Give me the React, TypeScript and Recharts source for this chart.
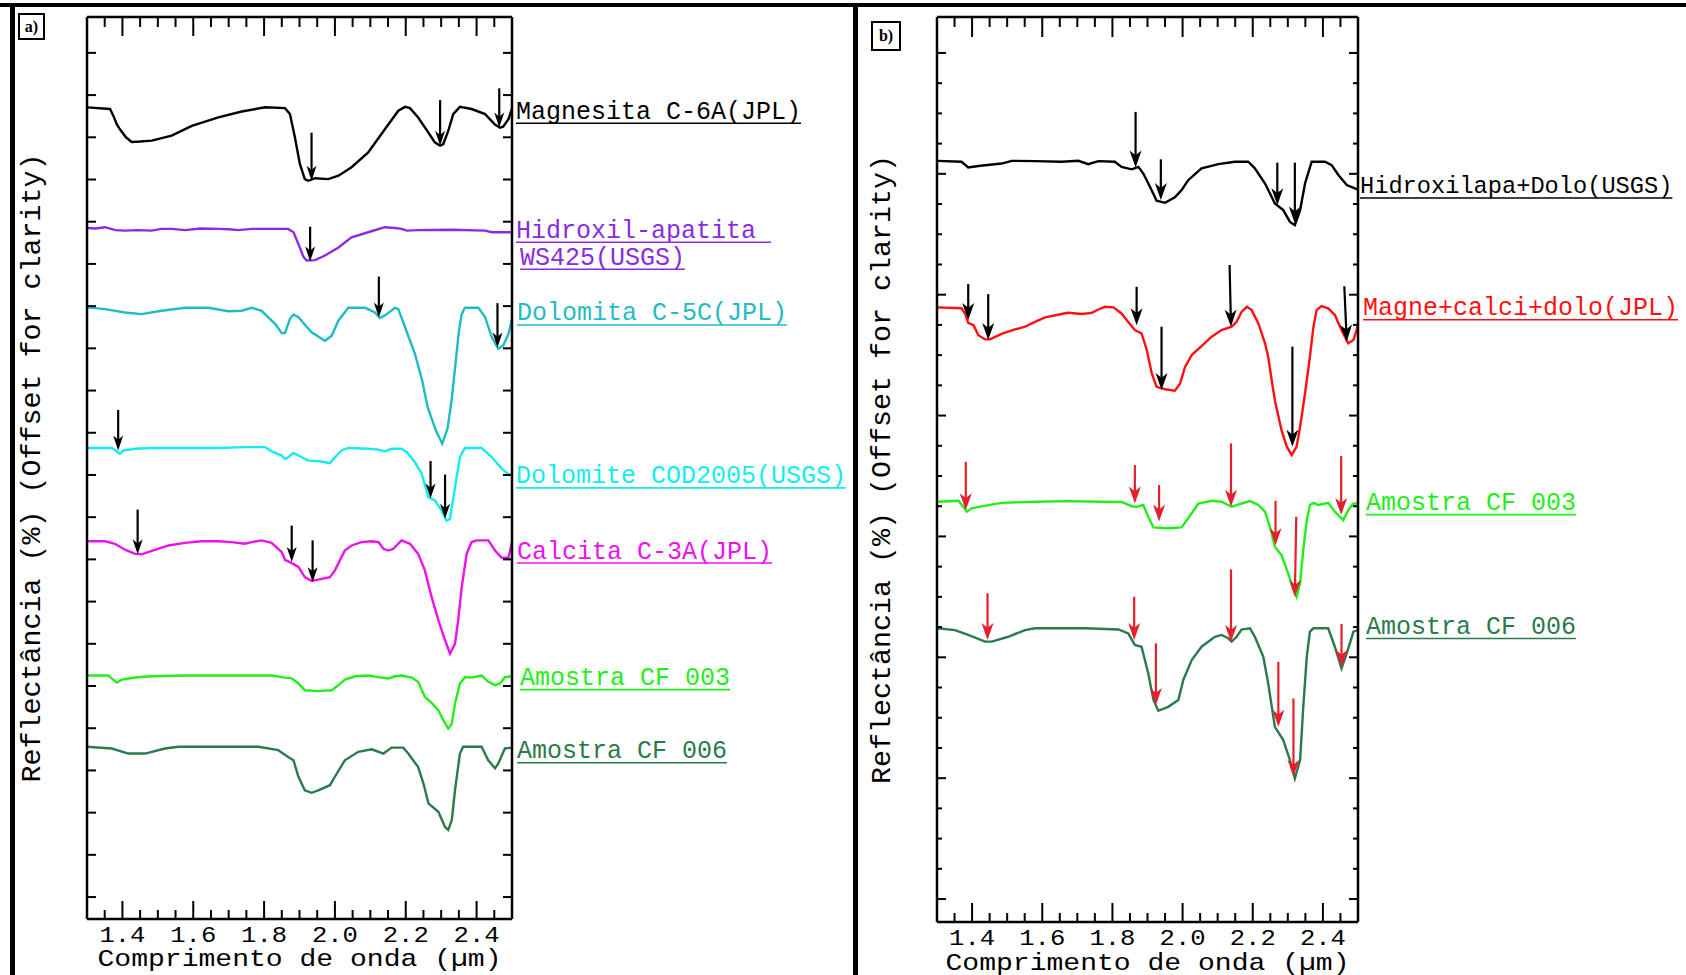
import React from "react";
import { LineChart, Line, XAxis, YAxis, ReferenceLine, ReferenceDot, Label } from "recharts";

type Pt = [number, number];
// arrow = [wl top, value top, wl tip, value tip]
type Arrow = [number, number, number, number];

// ---- panel a) spectra (offset reflectance, one unit = one y tick) ----
const magnesita: Pt[] = [
  [1.300, 18.71], [1.365, 18.67], [1.375, 18.50], [1.384, 18.31], [1.393, 18.19], [1.410, 18.00], [1.426, 17.89],
  [1.450, 17.90], [1.483, 17.92], [1.539, 18.04], [1.596, 18.27], [1.671, 18.47], [1.737, 18.61], [1.803, 18.71],
  [1.859, 18.69], [1.873, 18.55], [1.887, 18.00], [1.901, 17.37], [1.915, 17.01], [1.925, 16.97], [1.944, 17.03],
  [1.981, 17.01], [2.010, 17.09], [2.047, 17.29], [2.094, 17.64], [2.141, 18.19], [2.179, 18.63], [2.198, 18.72],
  [2.212, 18.69], [2.235, 18.47], [2.264, 18.11], [2.282, 17.88], [2.297, 17.80], [2.306, 17.84], [2.320, 18.15],
  [2.334, 18.55], [2.353, 18.72], [2.386, 18.67], [2.424, 18.55], [2.452, 18.30], [2.466, 18.23], [2.475, 18.25],
  [2.490, 18.43], [2.500, 18.68],
];
const hidroxilApatita: Pt[] = [
  [1.300, 15.85], [1.323, 15.84], [1.351, 15.87], [1.380, 15.80], [1.407, 15.79], [1.440, 15.80], [1.483, 15.79],
  [1.510, 15.83], [1.539, 15.83], [1.577, 15.80], [1.620, 15.84], [1.671, 15.83], [1.700, 15.82], [1.727, 15.80],
  [1.765, 15.83], [1.820, 15.83], [1.868, 15.83], [1.883, 15.75], [1.897, 15.47], [1.911, 15.17], [1.920, 15.08],
  [1.944, 15.09], [1.972, 15.20], [2.010, 15.39], [2.047, 15.63], [2.094, 15.75], [2.141, 15.87], [2.170, 15.85],
  [2.188, 15.83], [2.203, 15.79], [2.235, 15.80], [2.330, 15.81], [2.424, 15.79], [2.443, 15.75], [2.500, 15.75],
];
const dolomitaC5C: Pt[] = [
  [1.300, 13.97], [1.351, 13.93], [1.407, 13.85], [1.454, 13.81], [1.511, 13.89], [1.577, 13.96], [1.643, 13.96],
  [1.699, 13.88], [1.737, 13.89], [1.765, 13.96], [1.793, 13.89], [1.831, 13.58], [1.850, 13.36], [1.859, 13.36],
  [1.873, 13.70], [1.883, 13.80], [1.897, 13.74], [1.934, 13.38], [1.972, 13.18], [1.991, 13.30], [2.010, 13.66],
  [2.038, 13.96], [2.085, 13.96], [2.113, 13.85], [2.127, 13.72], [2.141, 13.78], [2.170, 13.96], [2.179, 13.93],
  [2.198, 13.50], [2.226, 12.87], [2.246, 12.25], [2.262, 11.60], [2.285, 11.05], [2.303, 10.74], [2.318, 11.10],
  [2.330, 11.80], [2.340, 12.60], [2.350, 13.40], [2.358, 13.81], [2.367, 13.96], [2.405, 13.96], [2.424, 13.74],
  [2.443, 13.26], [2.461, 12.99], [2.475, 13.07], [2.490, 13.34], [2.500, 13.70],
];
const dolomiteCOD: Pt[] = [
  [1.300, 10.64], [1.370, 10.64], [1.384, 10.56], [1.393, 10.50], [1.403, 10.58], [1.436, 10.62], [1.483, 10.64],
  [1.577, 10.64], [1.671, 10.64], [1.746, 10.66], [1.803, 10.66], [1.821, 10.56], [1.850, 10.46], [1.859, 10.38],
  [1.868, 10.42], [1.883, 10.52], [1.897, 10.46], [1.925, 10.34], [1.953, 10.33], [1.986, 10.28], [2.000, 10.42],
  [2.019, 10.58], [2.038, 10.64], [2.094, 10.62], [2.123, 10.60], [2.141, 10.56], [2.160, 10.62], [2.188, 10.62],
  [2.203, 10.54], [2.226, 10.30], [2.245, 10.03], [2.264, 9.47], [2.282, 9.40], [2.301, 9.16], [2.315, 8.92],
  [2.325, 8.96], [2.339, 9.71], [2.353, 10.42], [2.367, 10.64], [2.414, 10.64], [2.443, 10.42], [2.471, 10.15],
  [2.494, 9.99], [2.500, 10.02],
];
const calcita: Pt[] = [
  [1.300, 8.43], [1.351, 8.43], [1.379, 8.37], [1.407, 8.23], [1.436, 8.13], [1.454, 8.12], [1.483, 8.20],
  [1.530, 8.33], [1.577, 8.39], [1.624, 8.43], [1.671, 8.43], [1.708, 8.41], [1.746, 8.37], [1.765, 8.41],
  [1.793, 8.45], [1.821, 8.39], [1.850, 8.17], [1.859, 7.99], [1.878, 7.91], [1.897, 7.82], [1.915, 7.58],
  [1.934, 7.49], [1.953, 7.52], [1.986, 7.58], [2.000, 7.74], [2.028, 8.21], [2.047, 8.33], [2.075, 8.41],
  [2.104, 8.43], [2.123, 8.41], [2.137, 8.25], [2.151, 8.21], [2.165, 8.25], [2.188, 8.45], [2.212, 8.37],
  [2.235, 8.13], [2.254, 7.74], [2.273, 7.11], [2.292, 6.56], [2.311, 6.08], [2.325, 5.77], [2.339, 6.00],
  [2.348, 6.56], [2.358, 7.34], [2.372, 8.13], [2.386, 8.41], [2.400, 8.45], [2.433, 8.45], [2.452, 8.21],
  [2.471, 8.04], [2.490, 8.04], [2.500, 8.41],
];
const cf003a: Pt[] = [
  [1.300, 5.25], [1.360, 5.25], [1.374, 5.15], [1.384, 5.08], [1.398, 5.15], [1.436, 5.20], [1.483, 5.23],
  [1.577, 5.25], [1.671, 5.25], [1.765, 5.25], [1.821, 5.25], [1.859, 5.20], [1.878, 5.18], [1.897, 5.06],
  [1.915, 4.90], [1.953, 4.88], [1.991, 4.90], [2.010, 5.02], [2.028, 5.15], [2.057, 5.23], [2.094, 5.25],
  [2.123, 5.21], [2.151, 5.18], [2.170, 5.23], [2.188, 5.25], [2.217, 5.20], [2.235, 5.10], [2.254, 4.74],
  [2.273, 4.60], [2.292, 4.43], [2.306, 4.19], [2.320, 3.99], [2.330, 4.11], [2.339, 4.58], [2.353, 5.06],
  [2.367, 5.21], [2.386, 5.20], [2.414, 5.25], [2.433, 5.10], [2.452, 5.02], [2.466, 5.06], [2.480, 5.21],
  [2.500, 5.23],
];
const cf006a: Pt[] = [
  [1.300, 3.56], [1.370, 3.52], [1.417, 3.40], [1.464, 3.40], [1.520, 3.52], [1.558, 3.56], [1.671, 3.56],
  [1.784, 3.56], [1.840, 3.48], [1.868, 3.32], [1.883, 3.24], [1.897, 2.85], [1.915, 2.53], [1.934, 2.47],
  [1.953, 2.53], [1.986, 2.65], [2.000, 2.85], [2.028, 3.24], [2.066, 3.44], [2.104, 3.50], [2.137, 3.40],
  [2.160, 3.54], [2.193, 3.54], [2.207, 3.40], [2.235, 3.08], [2.250, 2.69], [2.264, 2.22], [2.292, 2.02],
  [2.311, 1.66], [2.320, 1.59], [2.330, 1.82], [2.339, 2.53], [2.353, 3.40], [2.362, 3.56], [2.414, 3.56],
  [2.433, 3.24], [2.452, 3.05], [2.461, 3.16], [2.480, 3.52], [2.500, 3.54],
];

// ---- panel b) spectra ----
const hidroxilapaDolo: Pt[] = [
  [1.300, 24.43], [1.370, 24.40], [1.389, 24.21], [1.418, 24.26], [1.484, 24.34], [1.513, 24.43], [1.579, 24.42],
  [1.655, 24.40], [1.703, 24.43], [1.731, 24.32], [1.760, 24.42], [1.807, 24.40], [1.826, 24.23], [1.855, 24.15],
  [1.874, 24.23], [1.888, 24.01], [1.907, 23.57], [1.926, 23.11], [1.950, 23.04], [1.978, 23.22], [1.997, 23.46],
  [2.016, 23.79], [2.054, 24.18], [2.102, 24.32], [2.149, 24.40], [2.187, 24.40], [2.206, 24.18], [2.235, 23.68],
  [2.263, 23.02], [2.287, 22.80], [2.306, 22.41], [2.320, 22.30], [2.335, 22.80], [2.349, 23.68], [2.368, 24.40],
  [2.406, 24.40], [2.425, 24.29], [2.444, 23.96], [2.468, 23.63], [2.491, 23.52], [2.500, 23.48],
];
const magneCalciDolo: Pt[] = [
  [1.300, 19.58], [1.370, 19.55], [1.380, 19.38], [1.389, 19.07], [1.404, 18.99], [1.418, 18.66], [1.437, 18.52],
  [1.451, 18.52], [1.484, 18.70], [1.522, 18.85], [1.551, 18.94], [1.579, 19.10], [1.608, 19.25], [1.655, 19.36],
  [1.674, 19.40], [1.712, 19.36], [1.741, 19.40], [1.760, 19.51], [1.779, 19.60], [1.803, 19.58], [1.826, 19.38],
  [1.845, 19.10], [1.864, 18.83], [1.883, 18.72], [1.898, 18.17], [1.912, 17.40], [1.926, 16.95], [1.950, 16.87],
  [1.978, 16.82], [1.993, 17.06], [2.007, 17.61], [2.026, 18.00], [2.054, 18.30], [2.083, 18.61], [2.111, 18.83],
  [2.140, 18.94], [2.154, 19.10], [2.168, 19.43], [2.183, 19.60], [2.197, 19.49], [2.216, 19.05], [2.235, 18.39],
  [2.244, 17.95], [2.254, 17.17], [2.263, 16.51], [2.282, 15.52], [2.297, 14.97], [2.311, 14.69], [2.325, 14.97],
  [2.335, 15.63], [2.349, 16.73], [2.363, 17.95], [2.373, 18.94], [2.382, 19.49], [2.396, 19.62], [2.415, 19.55],
  [2.434, 19.33], [2.453, 18.83], [2.472, 18.39], [2.487, 18.50], [2.496, 18.83], [2.500, 19.05],
];
const cf003b: Pt[] = [
  [1.300, 13.15], [1.361, 13.18], [1.375, 12.98], [1.385, 12.82], [1.399, 12.93], [1.418, 12.98], [1.484, 13.11],
  [1.579, 13.15], [1.674, 13.17], [1.769, 13.15], [1.826, 13.14], [1.855, 13.00], [1.869, 12.98], [1.888, 13.04],
  [1.902, 12.65], [1.917, 12.30], [1.959, 12.27], [1.997, 12.30], [2.016, 12.60], [2.045, 13.09], [2.083, 13.18],
  [2.111, 13.15], [2.140, 12.98], [2.168, 13.09], [2.192, 13.17], [2.216, 13.04], [2.235, 12.82], [2.249, 12.32],
  [2.263, 11.66], [2.282, 11.38], [2.301, 10.78], [2.316, 10.23], [2.325, 10.00], [2.335, 10.45], [2.344, 11.55],
  [2.354, 12.54], [2.363, 13.04], [2.373, 13.11], [2.387, 13.04], [2.415, 13.11], [2.434, 12.82], [2.458, 12.54],
  [2.472, 12.87], [2.487, 13.09], [2.500, 13.09],
];
const cf006b: Pt[] = [
  [1.300, 8.96], [1.351, 8.90], [1.389, 8.74], [1.437, 8.52], [1.456, 8.52], [1.503, 8.68], [1.551, 8.90],
  [1.579, 8.96], [1.722, 8.96], [1.817, 8.92], [1.845, 8.79], [1.864, 8.41], [1.883, 8.35], [1.902, 7.47],
  [1.917, 6.59], [1.931, 6.23], [1.959, 6.36], [1.988, 6.59], [2.002, 7.25], [2.026, 7.91], [2.054, 8.35],
  [2.092, 8.68], [2.111, 8.74], [2.130, 8.63], [2.140, 8.52], [2.154, 8.68], [2.168, 8.92], [2.192, 8.96],
  [2.206, 8.68], [2.230, 8.02], [2.244, 7.14], [2.263, 5.70], [2.287, 5.26], [2.306, 4.60], [2.320, 3.99],
  [2.335, 4.60], [2.344, 6.36], [2.354, 8.02], [2.363, 8.85], [2.373, 8.96], [2.415, 8.96], [2.434, 8.35],
  [2.453, 7.63], [2.468, 8.13], [2.487, 8.85], [2.500, 8.90],
];

// absorption feature arrows
const arrowsA: Arrow[] = [
  [1.934, 18.11, 1.934, 16.97], [2.297, 18.88, 2.297, 17.80], [2.464, 19.16, 2.464, 18.23],
  [1.930, 15.88, 1.930, 15.06],
  [2.124, 14.70, 2.124, 13.73], [2.459, 14.07, 2.459, 13.02],
  [1.388, 11.54, 1.388, 10.58], [2.270, 10.33, 2.270, 9.44], [2.311, 10.01, 2.311, 8.96],
  [1.443, 9.18, 1.443, 8.12], [1.878, 8.80, 1.878, 7.94], [1.937, 8.45, 1.937, 7.46],
];
const arrowsBBlack: Arrow[] = [
  [1.866, 26.05, 1.866, 24.21], [1.938, 24.48, 1.938, 23.13], [2.270, 24.37, 2.270, 22.96], [2.320, 24.37, 2.320, 22.36],
  [1.389, 20.35, 1.389, 19.16], [1.446, 20.02, 1.446, 18.50], [1.869, 20.26, 1.869, 18.99], [1.940, 18.94, 1.940, 16.85],
  [2.134, 20.98, 2.138, 18.94], [2.313, 18.28, 2.313, 14.97], [2.461, 20.28, 2.468, 18.44],
];
const arrowsBRed: Arrow[] = [
  [1.382, 14.47, 1.382, 12.87], [1.864, 14.36, 1.864, 13.09], [1.933, 13.70, 1.933, 12.49], [2.138, 15.08, 2.138, 12.98],
  [2.265, 13.18, 2.265, 11.71], [2.324, 12.65, 2.320, 10.00], [2.452, 14.66, 2.452, 12.71],
  [1.444, 10.12, 1.444, 8.57], [1.862, 10.00, 1.862, 8.57], [1.924, 8.46, 1.924, 6.42], [2.138, 10.91, 2.138, 8.51],
  [2.273, 7.85, 2.273, 5.70], [2.316, 6.64, 2.316, 4.05], [2.453, 9.10, 2.453, 7.69],
];

const seriesA = [magnesita, hidroxilApatita, dolomitaC5C, dolomiteCOD, calcita, cf003a, cf006a];
const namesA = ["Magnesita C-6A(JPL)", "Hidroxil-apatita \nWS425(USGS)", "Dolomita C-5C(JPL)", "Dolomite COD2005(USGS)",
  "Calcita C-3A(JPL)", "Amostra CF 003", "Amostra CF 006"];
const colorsA = ["#000000", "#8a2be2", "#1fbcc4", "#14ecf0", "#ee10ee", "#22ee18", "#2b7a4b"];
const labelYA = [18.44, 15.62, 13.66, 9.80, 8.02, 5.02, 3.29];
const labelDxA = [4, 4, 5, 4, 5, 8, 5];
const charWA = [15, 15, 15, 15, 15, 15, 15];

const seriesB = [hidroxilapaDolo, magneCalciDolo, cf003b, cf006b];
const namesB = ["Hidroxilapa+Dolo(USGS)", "Magne+calci+dolo(JPL)", "Amostra CF 003", "Amostra CF 006"];
const colorsB = ["#000000", "#ff1010", "#22ee18", "#2b7a4b"];
const labelYB = [23.35, 19.32, 12.87, 8.77];
const labelDxB = [2, 5, 8, 8];
const charWB = [14.2, 15, 15, 15];

const xTicks = [1.35, 1.4, 1.45, 1.5, 1.55, 1.6, 1.65, 1.7, 1.75, 1.8, 1.85, 1.9, 1.95, 2.0, 2.05, 2.1, 2.15, 2.2,
  2.25, 2.3, 2.35, 2.4, 2.45];
const yTicksA = [0, 1, 2, 3, 4, 5, 6, 7, 8, 9, 10, 11, 12, 13, 14, 15, 16, 17, 18, 19, 20];
const yTicksB = [0, 1, 2, 3, 4, 5, 6, 7, 8, 9, 10, 11, 12, 13, 14, 15, 16, 17, 18, 19, 20, 21, 22, 23, 24, 25, 26, 27, 28];

const MONO = "'Liberation Mono', 'DejaVu Sans Mono', monospace";
const toRows = (pts: Pt[]) => pts.map(([wl, r]) => ({ wl, r }));
const isMajorX = (v: number) => Math.round(v * 100) % 20 === 0;

// x ticks point inwards, labels only on the 0.2 µm ticks
const bottomTick = (major: number, minor: number) => (p: any) => {
  const { x, y, payload } = p;
  const big = isMajorX(payload.value);
  return (
    <g>
      <line x1={x} x2={x} y1={y} y2={y - (big ? major : minor)} stroke="#000" strokeWidth={2} />
      {big && (
        <text x={x} y={y + 23} textAnchor="middle" fontFamily={MONO} fontSize={22} textLength={46}
          lengthAdjust="spacingAndGlyphs" fill="#000">
          {payload.value.toFixed(1)}
        </text>
      )}
    </g>
  );
};
const topTick = (major: number, minor: number) => (p: any) => {
  const { x, y, payload } = p;
  const big = isMajorX(payload.value);
  return <line x1={x} x2={x} y1={y} y2={y + (big ? major : minor)} stroke="#000" strokeWidth={2} />;
};
const sideTick = (dir: number, every: number, major: number, minor: number) => (p: any) => {
  const { x, y, payload } = p;
  const len = payload.value % every === 0 ? major : minor;
  return <line x1={x} x2={x + dir * len} y1={y} y2={y} stroke="#000" strokeWidth={2} />;
};

const arrowShape = (color: string, head: number, half: number) => (p: any) => {
  const { x1, y1, x2, y2 } = p;
  const dx = x2 - x1;
  const dy = y2 - y1;
  const len = Math.hypot(dx, dy) || 1;
  const ux = dx / len;
  const uy = dy / len;
  const bx = x2 - ux * head;
  const by = y2 - uy * head;
  const nx = -uy;
  const ny = ux;
  const pts = [
    [x2, y2],
    [bx + nx * half, by + ny * half],
    [x2 - ux * head * 0.72, y2 - uy * head * 0.72],
    [bx - nx * half, by - ny * half],
  ].map((q) => q.join(",")).join(" ");
  return (
    <g>
      <line x1={x1} y1={y1} x2={x2 - ux * head * 0.6} y2={y2 - uy * head * 0.6} stroke={color} strokeWidth={2.2} />
      <polygon points={pts} fill={color} />
    </g>
  );
};

const labelShape = (text: string, color: string, dx: number, cw: number) => (p: any) => {
  const { cx, cy } = p;
  const rows = text.split("\n");
  const fs = Math.min(25, cw / 0.6);
  return (
    <g>
      {rows.map((t, i) => {
        const x0 = cx + dx + (i > 0 ? 4 : 0);
        const y0 = cy + i * 27;
        const w = t.length * cw;
        return (
          <g key={i}>
            <text x={x0} y={y0} fill={color} fontFamily={MONO} fontSize={fs} textLength={t.trimEnd().length * cw}
              lengthAdjust="spacingAndGlyphs">
              {t.trimEnd()}
            </text>
            <line x1={x0} x2={x0 + w} y1={y0 + 4.5} y2={y0 + 4.5} stroke={color} strokeWidth={1.6} />
          </g>
        );
      })}
    </g>
  );
};

const xTitle = (dy: number) => (p: any) => {
  const vb = p.viewBox;
  return (
    <text x={vb.x + vb.width / 2} y={vb.y + dy} textAnchor="middle" fontFamily={MONO} fontSize={24} textLength={404}
      lengthAdjust="spacingAndGlyphs" fill="#000">
      Comprimento de onda (µm)
    </text>
  );
};
const yTitle = (p: any) => {
  const vb = p.viewBox;
  const x = vb.x + vb.width - 47;
  const y = vb.y + vb.height / 2;
  return (
    <text x={x} y={y} transform={`rotate(-90, ${x}, ${y})`} textAnchor="middle" fontFamily={MONO} fontSize={28}
      textLength={629} lengthAdjust="spacingAndGlyphs" fill="#000">
      Reflectância (%) (Offset for clarity)
    </text>
  );
};

interface PanelProps {
  width: number
  margin: { top: number; right: number; bottom: number; left: number }
  yDomain: [number, number]
  yTicks: number[]
  yEvery: number
  yMinor: number
  xMajor: number
  titleDy: number
  series: Pt[][]
  names: string[]
  colors: string[]
  labelY: number[]
  labelDx: number[]
  charW: number[]
  arrows: { list: Arrow[]; color: string; head: number; half: number }[]
}

const Panel = (props: PanelProps) => (
  <LineChart width={props.width} height={975} margin={props.margin}>
    <XAxis xAxisId={0} type="number" dataKey="wl" domain={[1.3, 2.5]} allowDataOverflow ticks={xTicks} interval={0}
      height={50} tickSize={0} tickMargin={0} tickLine={false} stroke="#000" strokeWidth={2.5}
      tick={bottomTick(props.xMajor, 9)}>
      <Label content={xTitle(props.titleDy)} />
    </XAxis>
    <XAxis xAxisId="top" orientation="top" type="number" dataKey="wl" domain={[1.3, 2.5]} allowDataOverflow
      ticks={xTicks} interval={0} height={10} tickSize={0} tickMargin={0} tickLine={false} stroke="#000"
      strokeWidth={2.5} tick={topTick(props.xMajor + 1, 10)} />
    <YAxis yAxisId={0} type="number" domain={props.yDomain} allowDataOverflow ticks={props.yTicks} interval={0}
      width={10} tickSize={0} tickMargin={0} tickLine={false} stroke="#000" strokeWidth={2.5}
      tick={sideTick(1, props.yEvery, 9, props.yMinor)}>
      <Label content={yTitle} />
    </YAxis>
    <YAxis yAxisId="right" orientation="right" type="number" domain={props.yDomain} allowDataOverflow
      ticks={props.yTicks} interval={0} width={10} tickSize={0} tickMargin={0} tickLine={false} stroke="#000"
      strokeWidth={2.5} tick={sideTick(-1, props.yEvery, 9, props.yMinor)} />
    {props.series.map((s, i) => (
      <Line key={props.names[i]} data={toRows(s)} dataKey="r" type="linear" stroke={props.colors[i]}
        strokeWidth={2.4} dot={false} activeDot={false} isAnimationActive={false} />
    ))}
    {props.arrows.map((g) =>
      g.list.map((a, j) => (
        <ReferenceLine key={`${g.color}-${j}`} segment={[{ x: a[0], y: a[1] }, { x: a[2], y: a[3] }]}
          shape={arrowShape(g.color, g.head, g.half)} />
      ))
    )}
    {props.names.map((n, i) => (
      <ReferenceDot key={`lbl-${i}`} x={2.5} y={props.labelY[i]} r={0}
        shape={labelShape(n, props.colors[i], props.labelDx[i], props.charW[i])} />
    ))}
  </LineChart>
);

const boxStyle: React.CSSProperties = {
  position: "absolute", border: "2px solid #000", boxSizing: "border-box", fontFamily: "'Liberation Serif', serif",
  fontWeight: "bold", fontSize: 16, display: "flex", alignItems: "center", justifyContent: "center", background: "#fff",
};

export default function App() {
  return (
    <div style={{ position: "absolute", left: 0, top: 0, width: 1686, height: 975, overflow: "hidden", background: "#fff" }}>
      <div style={{ position: "absolute", left: 0, top: 3, width: 1686, height: 4, background: "#000" }} />
      <div style={{ position: "absolute", left: 10, top: 3, width: 5, height: 972, background: "#000" }} />
      <div style={{ position: "absolute", left: 853, top: 3, width: 5, height: 972, background: "#000" }} />
      <div style={{ ...boxStyle, left: 18, top: 13, width: 27, height: 27 }}>a)</div>
      <div style={{ ...boxStyle, left: 871, top: 21, width: 30, height: 30 }}>b)</div>
      <div style={{ position: "absolute", left: 0, top: 0 }}>
        <Panel width={853} margin={{ top: 7, right: 331, bottom: 6, left: 77 }} yDomain={[-0.52, 20.85]}
          yTicks={yTicksA} yEvery={1} yMinor={8} xMajor={18} titleDy={47}
          series={seriesA} names={namesA} colors={colorsA} labelY={labelYA} labelDx={labelDxA} charW={charWA}
          arrows={[{ list: arrowsA, color: "#000", head: 15, half: 5 }]} />
      </div>
      <div style={{ position: "absolute", left: 856, top: 0 }}>
        <Panel width={830} margin={{ top: 7, right: 318, bottom: 3, left: 71 }} yDomain={[-0.76, 29.19]}
          yTicks={yTicksB} yEvery={4} yMinor={5} xMajor={19} titleDy={47.5}
          series={seriesB} names={namesB} colors={colorsB} labelY={labelYB} labelDx={labelDxB} charW={charWB}
          arrows={[
            { list: arrowsBBlack, color: "#000", head: 17, half: 6 },
            { list: arrowsBRed, color: "#e3202c", head: 17, half: 6 },
          ]} />
      </div>
    </div>
  );
}
